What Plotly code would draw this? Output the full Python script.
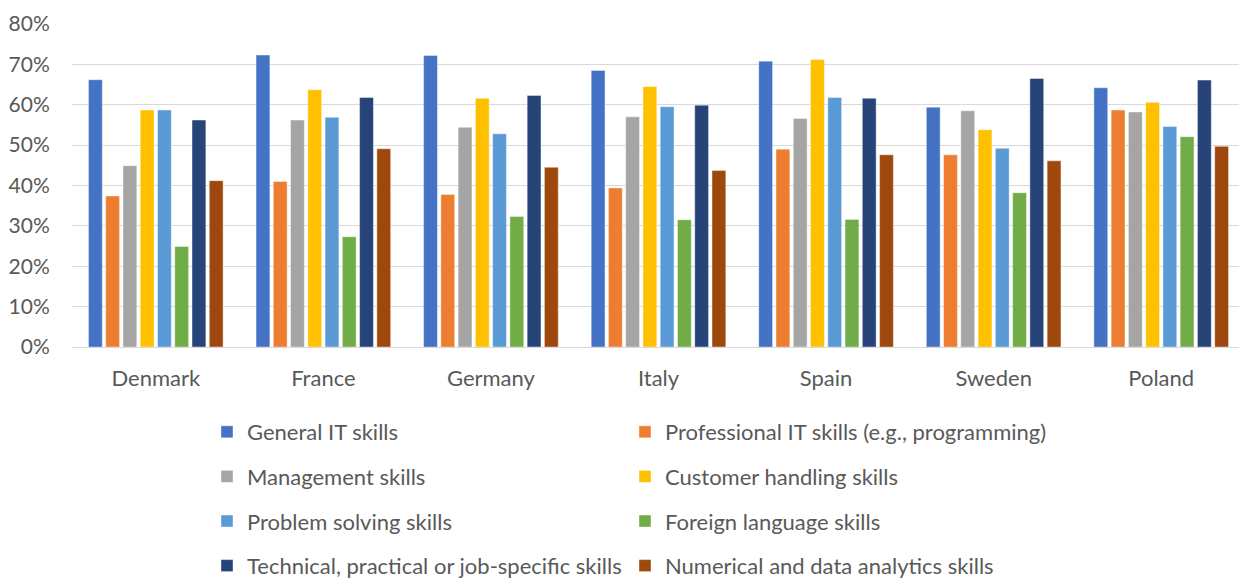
import plotly.graph_objects as go

countries = ["Denmark", "France", "Germany", "Italy", "Spain", "Sweden", "Poland"]

general_it = [66.2, 72.3, 72.2, 68.5, 70.8, 59.4, 64.2]
professional_it = [37.4, 41.0, 37.8, 39.4, 49.0, 47.6, 58.7]
management = [44.9, 56.2, 54.4, 57.0, 56.6, 58.5, 58.2]
customer = [58.7, 63.7, 61.6, 64.5, 71.2, 53.8, 60.6]
problem = [58.7, 56.9, 52.8, 59.5, 61.8, 49.2, 54.6]
foreign = [24.9, 27.3, 32.3, 31.5, 31.6, 38.2, 52.1]
technical = [56.2, 61.8, 62.3, 59.9, 61.6, 66.5, 66.1]
numerical = [41.2, 49.1, 44.5, 43.7, 47.6, 46.1, 49.7]

series = [
    ("General IT skills", general_it, "#4472C4", "legend"),
    ("Professional IT skills (e.g., programming)", professional_it, "#ED7D31", "legend2"),
    ("Management skills", management, "#A5A5A5", "legend"),
    ("Customer handling skills", customer, "#FFC000", "legend2"),
    ("Problem solving skills", problem, "#5B9BD5", "legend"),
    ("Foreign language skills", foreign, "#70AD47", "legend2"),
    ("Technical, practical or job-specific skills", technical, "#264478", "legend"),
    ("Numerical and data analytics skills", numerical, "#9E480E", "legend2"),
]

FONT = "Lato"
FS = 22
W, H = 1239, 571
ML, MR, MT, MB = 64, 2, 16, 232
PW = W - ML - MR
PH = H - MT - MB


def px_x(px):
    return (px - ML) / PW


def px_y(py):
    return (H - MB - py) / PH


fig = go.Figure()
for name, vals, color, lg in series:
    fig.add_trace(go.Bar(
        x=countries, y=[v / 100 for v in vals], name=name,
        marker=dict(color=color, line=dict(color="rgba(255,255,255,0.5)", width=0.8)),
        legend=lg, legendgroup=name,
    ))

legend_common = dict(
    orientation="v", xref="paper", yref="paper", yanchor="top", xanchor="left",
    font=dict(family=FONT, size=FS, color="#595959"),
    traceorder="grouped", tracegroupgap=13, bgcolor="rgba(0,0,0,0)",
    itemclick=False, itemdoubleclick=False,
)

fig.update_layout(
    width=W, height=H,
    margin=dict(l=ML, r=MR, t=MT, b=MB, autoexpand=False),
    paper_bgcolor="white", plot_bgcolor="white",
    barmode="group", bargap=0.176, bargroupgap=0.2,
    font=dict(family=FONT, size=FS, color="#595959"),
    legend=dict(x=px_x(199), y=px_y(403), **legend_common),
    legend2=dict(x=px_x(617), y=px_y(403), **legend_common),
    xaxis=dict(
        showgrid=False, showline=True, linecolor="#D9D9D9", linewidth=1,
        ticks="outside", ticklen=12, tickcolor="rgba(0,0,0,0)",
        tickfont=dict(family=FONT, size=FS, color="#595959"),
    ),
    yaxis=dict(
        range=[0, 0.8], dtick=0.1, tickformat=".0%",
        showgrid=True, gridcolor="#D9D9D9", gridwidth=1,
        zeroline=True, zerolinecolor="#D9D9D9", zerolinewidth=1,
        ticks="outside", ticklen=17, tickcolor="rgba(0,0,0,0)",
        tickfont=dict(family=FONT, size=21, color="#595959"),
    ),
)

fig.write_html("out.html")
